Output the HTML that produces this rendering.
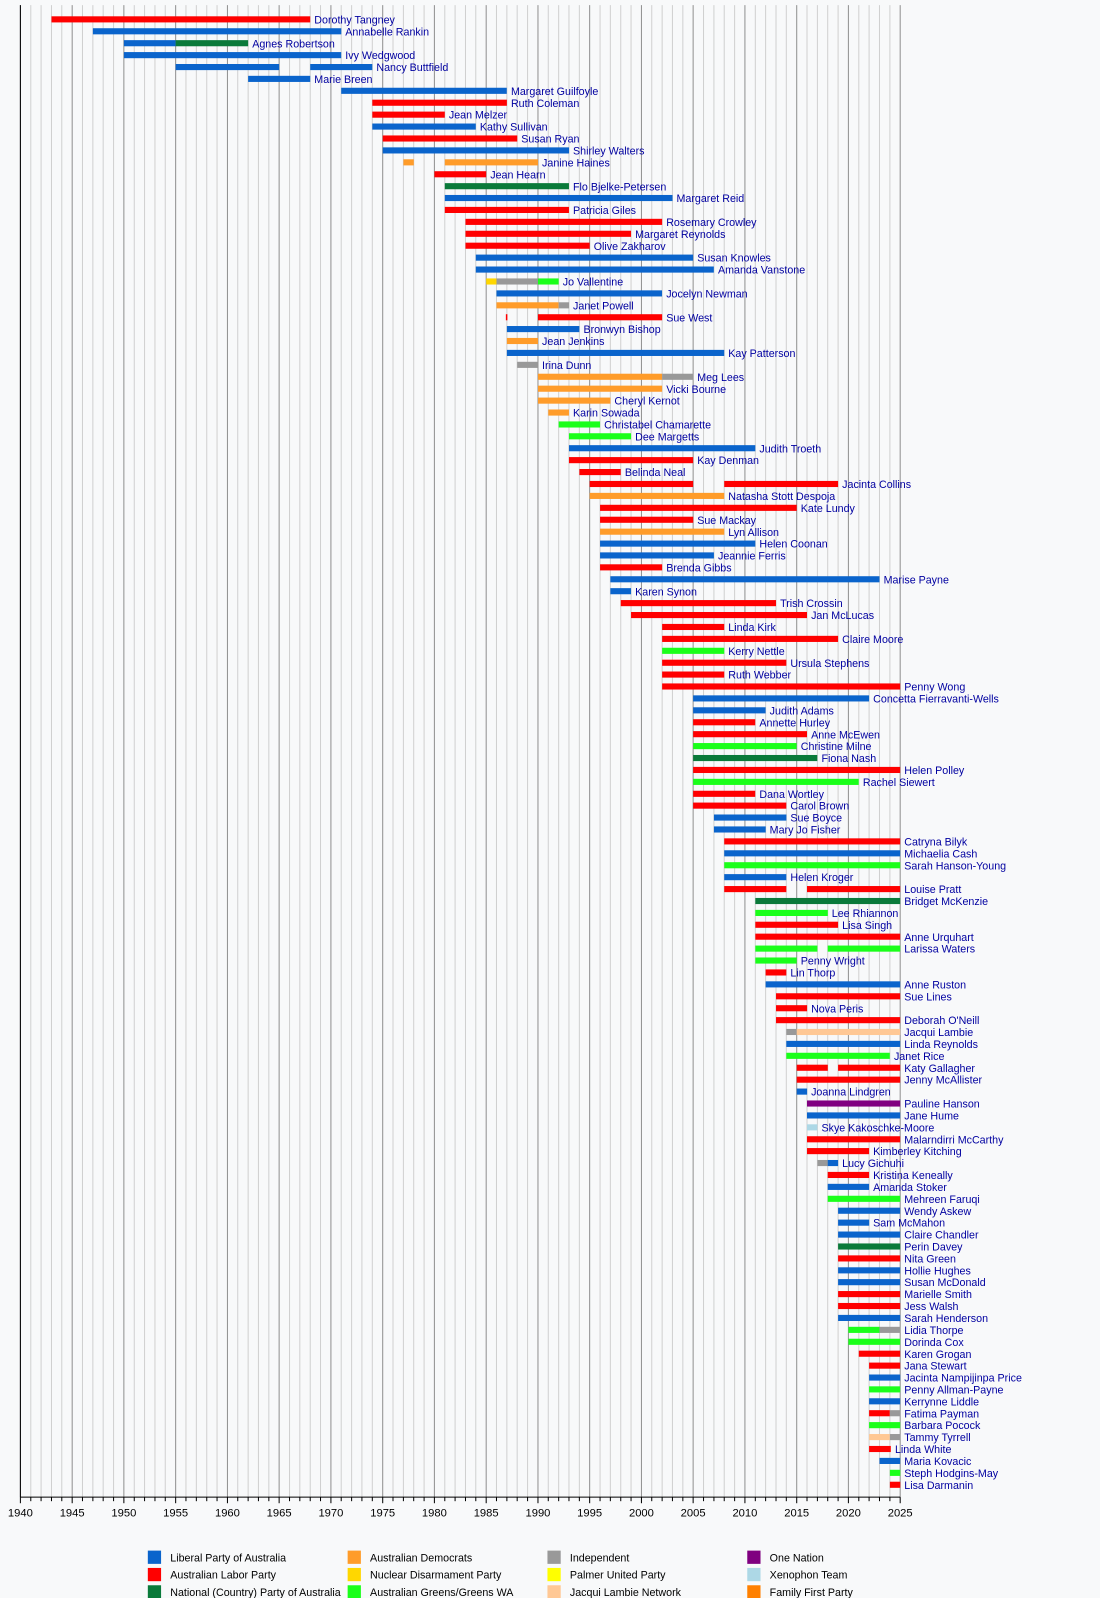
<!DOCTYPE html>
<html><head><meta charset="utf-8"><style>
html,body{margin:0;padding:0;background:#f8f9fa;}
svg{display:block;font-family:"Liberation Sans",sans-serif;}
</style></head><body>
<svg id="c" width="1100" height="1598" viewBox="0 0 1079 1568" preserveAspectRatio="none" xmlns="http://www.w3.org/2000/svg"></svg>
<script>
const C={L:"#0a64cc",A:"#ff0000",N:"#0a7a3a",D:"#ff9c2a",ND:"#ffd700",G:"#1aff1a",I:"#999999",P:"#ffff00",J:"#ffc895",O:"#800080",X:"#add8e6",F:"#ff8000"};
const R=[
["Dorothy Tangney",[[1943,1968,"A"]]],
["Annabelle Rankin",[[1947,1971,"L"]]],
["Agnes Robertson",[[1950,1955,"L"],[1955,1962,"N"]]],
["Ivy Wedgwood",[[1950,1971,"L"]]],
["Nancy Buttfield",[[1955,1965,"L"],[1968,1974,"L"]]],
["Marie Breen",[[1962,1968,"L"]]],
["Margaret Guilfoyle",[[1971,1987,"L"]]],
["Ruth Coleman",[[1974,1987,"A"]]],
["Jean Melzer",[[1974,1981,"A"]]],
["Kathy Sullivan",[[1974,1984,"L"]]],
["Susan Ryan",[[1975,1988,"A"]]],
["Shirley Walters",[[1975,1993,"L"]]],
["Janine Haines",[[1977,1978,"D"],[1981,1990,"D"]]],
["Jean Hearn",[[1980,1985,"A"]]],
["Flo Bjelke-Petersen",[[1981,1993,"N"]]],
["Margaret Reid",[[1981,2003,"L"]]],
["Patricia Giles",[[1981,1993,"A"]]],
["Rosemary Crowley",[[1983,2002,"A"]]],
["Margaret Reynolds",[[1983,1999,"A"]]],
["Olive Zakharov",[[1983,1995,"A"]]],
["Susan Knowles",[[1984,2005,"L"]]],
["Amanda Vanstone",[[1984,2007,"L"]]],
["Jo Vallentine",[[1985,1986,"ND"],[1986,1990,"I"],[1990,1992,"G"]]],
["Jocelyn Newman",[[1986,2002,"L"]]],
["Janet Powell",[[1986,1992,"D"],[1992,1993,"I"]]],
["Sue West",[[1986.9,1987.05,"A"],[1990,2002,"A"]]],
["Bronwyn Bishop",[[1987,1994,"L"]]],
["Jean Jenkins",[[1987,1990,"D"]]],
["Kay Patterson",[[1987,2008,"L"]]],
["Irina Dunn",[[1988,1990,"I"]]],
["Meg Lees",[[1990,2002,"D"],[2002,2005,"I"]]],
["Vicki Bourne",[[1990,2002,"D"]]],
["Cheryl Kernot",[[1990,1997,"D"]]],
["Karin Sowada",[[1991,1993,"D"]]],
["Christabel Chamarette",[[1992,1996,"G"]]],
["Dee Margetts",[[1993,1999,"G"]]],
["Judith Troeth",[[1993,2011,"L"]]],
["Kay Denman",[[1993,2005,"A"]]],
["Belinda Neal",[[1994,1998,"A"]]],
["Jacinta Collins",[[1995,2005,"A"],[2008,2019,"A"]]],
["Natasha Stott Despoja",[[1995,2008,"D"]]],
["Kate Lundy",[[1996,2015,"A"]]],
["Sue Mackay",[[1996,2005,"A"]]],
["Lyn Allison",[[1996,2008,"D"]]],
["Helen Coonan",[[1996,2011,"L"]]],
["Jeannie Ferris",[[1996,2007,"L"]]],
["Brenda Gibbs",[[1996,2002,"A"]]],
["Marise Payne",[[1997,2023,"L"]]],
["Karen Synon",[[1997,1999,"L"]]],
["Trish Crossin",[[1998,2013,"A"]]],
["Jan McLucas",[[1999,2016,"A"]]],
["Linda Kirk",[[2002,2008,"A"]]],
["Claire Moore",[[2002,2019,"A"]]],
["Kerry Nettle",[[2002,2008,"G"]]],
["Ursula Stephens",[[2002,2014,"A"]]],
["Ruth Webber",[[2002,2008,"A"]]],
["Penny Wong",[[2002,2025,"A"]]],
["Concetta Fierravanti-Wells",[[2005,2022,"L"]]],
["Judith Adams",[[2005,2012,"L"]]],
["Annette Hurley",[[2005,2011,"A"]]],
["Anne McEwen",[[2005,2016,"A"]]],
["Christine Milne",[[2005,2015,"G"]]],
["Fiona Nash",[[2005,2017,"N"]]],
["Helen Polley",[[2005,2025,"A"]]],
["Rachel Siewert",[[2005,2021,"G"]]],
["Dana Wortley",[[2005,2011,"A"]]],
["Carol Brown",[[2005,2014,"A"]]],
["Sue Boyce",[[2007,2014,"L"]]],
["Mary Jo Fisher",[[2007,2012,"L"]]],
["Catryna Bilyk",[[2008,2025,"A"]]],
["Michaelia Cash",[[2008,2025,"L"]]],
["Sarah Hanson-Young",[[2008,2025,"G"]]],
["Helen Kroger",[[2008,2014,"L"]]],
["Louise Pratt",[[2008,2014,"A"],[2016,2025,"A"]]],
["Bridget McKenzie",[[2011,2025,"N"]]],
["Lee Rhiannon",[[2011,2018,"G"]]],
["Lisa Singh",[[2011,2019,"A"]]],
["Anne Urquhart",[[2011,2025,"A"]]],
["Larissa Waters",[[2011,2017,"G"],[2018,2025,"G"]]],
["Penny Wright",[[2011,2015,"G"]]],
["Lin Thorp",[[2012,2014,"A"]]],
["Anne Ruston",[[2012,2025,"L"]]],
["Sue Lines",[[2013,2025,"A"]]],
["Nova Peris",[[2013,2016,"A"]]],
["Deborah O'Neill",[[2013,2025,"A"]]],
["Jacqui Lambie",[[2014,2015,"I"],[2015,2025,"J"]]],
["Linda Reynolds",[[2014,2025,"L"]]],
["Janet Rice",[[2014,2024,"G"]]],
["Katy Gallagher",[[2015,2018,"A"],[2019,2025,"A"]]],
["Jenny McAllister",[[2015,2025,"A"]]],
["Joanna Lindgren",[[2015,2016,"L"]]],
["Pauline Hanson",[[2016,2025,"O"]]],
["Jane Hume",[[2016,2025,"L"]]],
["Skye Kakoschke-Moore",[[2016,2017,"X"]]],
["Malarndirri McCarthy",[[2016,2025,"A"]]],
["Kimberley Kitching",[[2016,2022,"A"]]],
["Lucy Gichuhi",[[2017,2018,"I"],[2018,2019,"L"]]],
["Kristina Keneally",[[2018,2022,"A"]]],
["Amanda Stoker",[[2018,2022,"L"]]],
["Mehreen Faruqi",[[2018,2025,"G"]]],
["Wendy Askew",[[2019,2025,"L"]]],
["Sam McMahon",[[2019,2022,"L"]]],
["Claire Chandler",[[2019,2025,"L"]]],
["Perin Davey",[[2019,2025,"N"]]],
["Nita Green",[[2019,2025,"A"]]],
["Hollie Hughes",[[2019,2025,"L"]]],
["Susan McDonald",[[2019,2025,"L"]]],
["Marielle Smith",[[2019,2025,"A"]]],
["Jess Walsh",[[2019,2025,"A"]]],
["Sarah Henderson",[[2019,2025,"L"]]],
["Lidia Thorpe",[[2020,2023,"G"],[2023,2025,"I"]]],
["Dorinda Cox",[[2020,2025,"G"]]],
["Karen Grogan",[[2021,2025,"A"]]],
["Jana Stewart",[[2022,2025,"A"]]],
["Jacinta Nampijinpa Price",[[2022,2025,"L"]]],
["Penny Allman-Payne",[[2022,2025,"G"]]],
["Kerrynne Liddle",[[2022,2025,"L"]]],
["Fatima Payman",[[2022,2024,"A"],[2024,2025,"I"]]],
["Barbara Pocock",[[2022,2025,"G"]]],
["Tammy Tyrrell",[[2022,2024,"J"],[2024,2025,"I"]]],
["Linda White",[[2022,2024.1,"A"]]],
["Maria Kovacic",[[2023,2025,"L"]]],
["Steph Hodgins-May",[[2024,2025,"G"]]],
["Lisa Darmanin",[[2024,2025,"A"]]]
];
const X=y=>20+(y-1940)*10.153;
let s="";
for(let y=1940;y<=2025;y++){const x=X(y).toFixed(1);s+=`<line x1="${x}" y1="5" x2="${x}" y2="1469" stroke="${y%5?'#d0d0d0':'#909090'}" stroke-width="1"/>`;s+=`<line x1="${x}" y1="1469" x2="${x}" y2="${y%5?1473:1475}" stroke="#000"/>`;if(y%5==0)s+=`<text x="${x}" y="1488" font-size="11" text-anchor="middle" fill="#000">${y}</text>`;}
s+=`<line x1="20" y1="5" x2="20" y2="1469" stroke="#000"/><line x1="20" y1="1469" x2="${X(2025)}" y2="1469" stroke="#000"/>`;
R.forEach((r,i)=>{const cy=19+i*11.69;let e=0;r[1].forEach(b=>{const x1=X(b[0]),x2=X(b[1]);e=Math.max(e,x2);s+=`<rect x="${x1.toFixed(1)}" y="${(cy-3).toFixed(1)}" width="${Math.max(1,x2-x1).toFixed(1)}" height="6" fill="${C[b[2]]}"/>`;});s+=`<text x="${(e+4).toFixed(1)}" y="${(cy+4).toFixed(1)}" font-size="10.5" fill="#0000a0">${r[0].replace("'","&#39;")}</text>`;});
const Lg=[["L","Liberal Party of Australia"],["A","Australian Labor Party"],["N","National (Country) Party of Australia"],["D","Australian Democrats"],["ND","Nuclear Disarmament Party"],["G","Australian Greens/Greens WA"],["I","Independent"],["P","Palmer United Party"],["J","Jacqui Lambie Network"],["O","One Nation"],["X","Xenophon Team"],["F","Family First Party"]];
Lg.forEach((l,i)=>{const col=Math.floor(i/3),row=i%3;const x=145+col*196,y=1528+row*17;s+=`<rect x="${x}" y="${y-6.5}" width="13" height="13" fill="${C[l[0]]}"/><text x="${x+22}" y="${y+4}" font-size="10.5" fill="#000">${l[1]}</text>`;});
document.getElementById("c").innerHTML=s;
</script>
</body></html>
